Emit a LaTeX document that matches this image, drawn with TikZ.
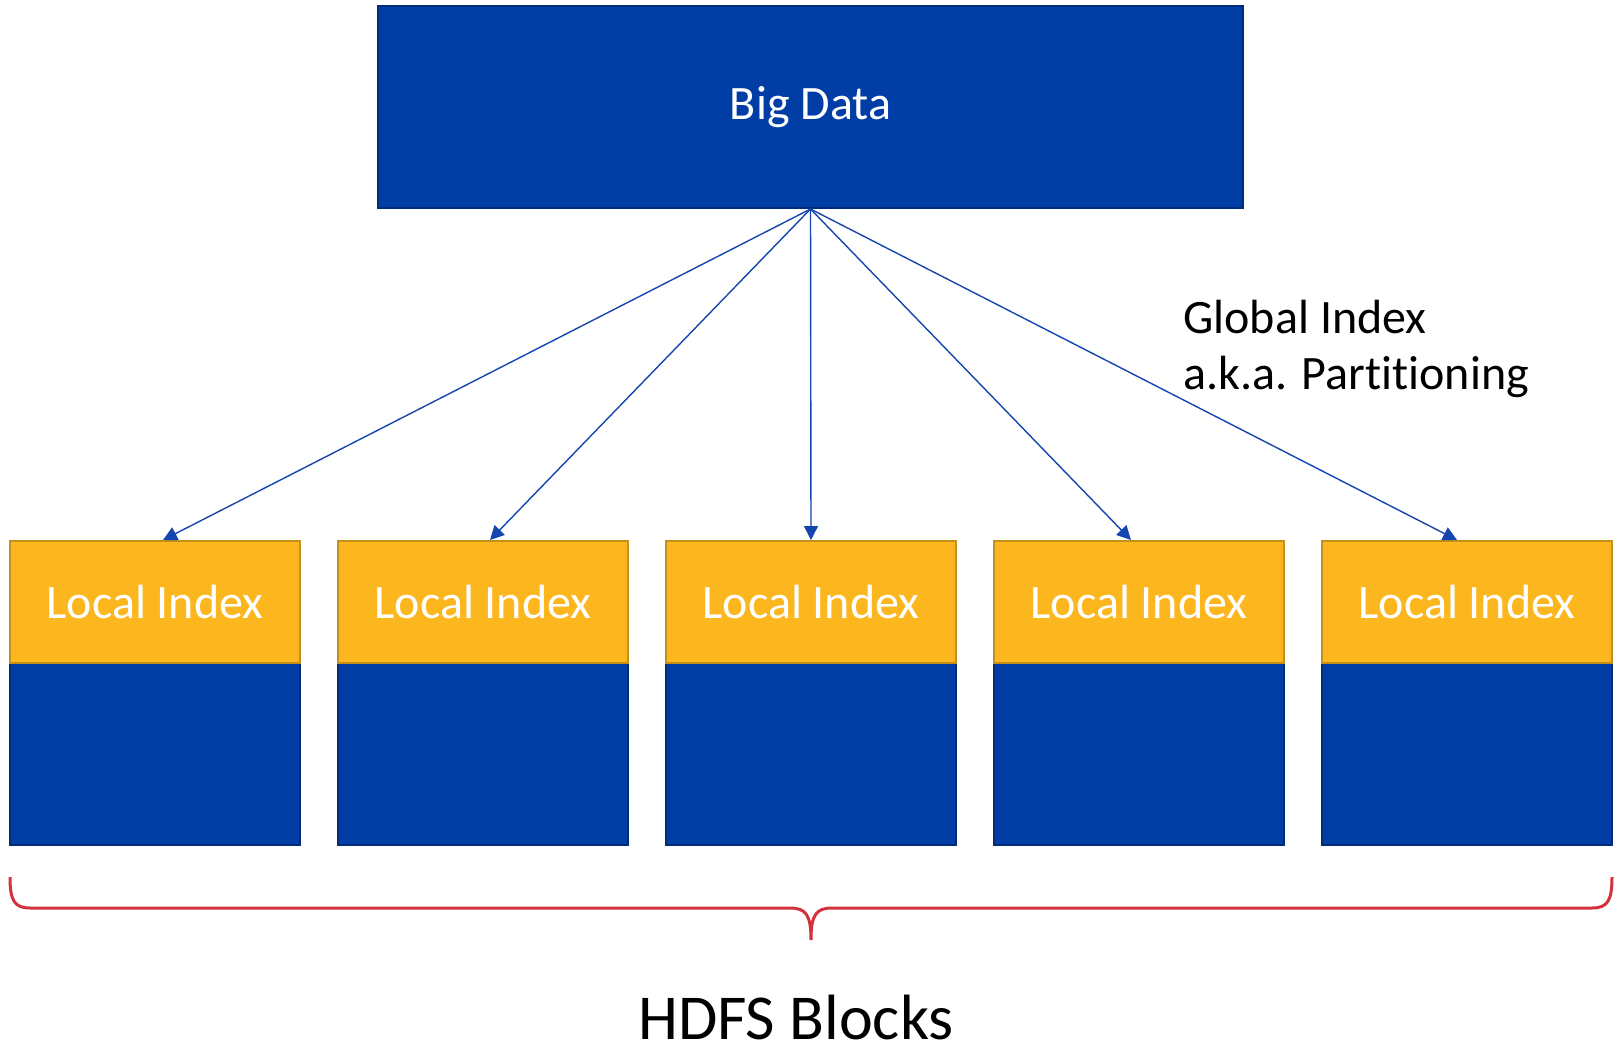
\documentclass[tikz,border=0pt]{standalone}
\usepackage{fontspec}
\setmainfont{Carlito}[Ligatures={NoCommon},RawFeature={-liga;-dlig;-calt}]
\usetikzlibrary{arrows.meta}
\definecolor{pblue}{RGB}{0,62,165}
\definecolor{pblueb}{RGB}{0,45,122}
\definecolor{pyel}{RGB}{253,183,30}
\definecolor{pyelb}{RGB}{196,144,26}
\definecolor{arrowblue}{RGB}{20,70,175}
\definecolor{bracered}{RGB}{210,50,60}
\tikzset{
  bigbox/.style={draw=pblueb, fill=pblue, line width=1pt, minimum width=432.5pt, minimum height=101pt, inner sep=0pt, text=white, font=\fontsize{24}{28}\selectfont},
  idxbox/.style={draw=pyelb, fill=pyel, line width=1pt, minimum width=145pt, minimum height=61pt, inner sep=0pt, text=white, font=\fontsize{24}{28}\selectfont},
  datbox/.style={draw=pblueb, fill=pblue, line width=1pt, minimum width=145pt, minimum height=91.5pt, inner sep=0pt},
  conn/.style={draw=arrowblue, line width=0.7pt, -{Triangle[length=7pt,width=7pt]}},
  brace/.style={draw=bracered, line width=1.5pt},
}
\begin{document}
\begin{tikzpicture}[x=0.5pt,y=-0.5pt]
\useasboundingbox (0,0) rectangle (1617,1045);
\node[bigbox] (big) at (810.5,107) {Big Data};
\foreach \i/\l in {1/10,2/338,3/666,4/994,5/1322}{
  \node[datbox] (d\i) at (\l+145,753.5) {};
  \node[idxbox] (y\i) at (\l+145,602) {Local Index};
}
\draw[conn] (big.south) -- ([xshift=4pt]y1.north);
\draw[conn] (big.south) -- ([xshift=3.5pt]y2.north);
\draw[conn] (big.south) -- (y3.north);
\draw[conn] (big.south) -- ([xshift=-4pt]y4.north);
\draw[conn] (big.south) -- ([xshift=-5pt]y5.north);
\node[anchor=west, align=left, font=\fontsize{24}{28}\selectfont, inner sep=0pt] (gi) at (1183,349) {Global Index\\a.k.a. Part\kern0pt iti\kern0pt oning};
\coordinate (bl) at (10,877);
\coordinate (br) at (1612,877);
\coordinate (bt) at (811,940);
\draw[brace] (bl) .. controls (10,900) and (14,908) .. (30,908) -- (790,908)
  .. controls (806,908) and (811,915) .. (bt)
  .. controls (811,915) and (816,908) .. (832,908) -- (1592,908)
  .. controls (1608,908) and (1612,900) .. (br);
\node[font=\fontsize{32}{38}\selectfont, inner sep=0pt] (hdfs) at (796,1017) {HDFS Blocks};
\end{tikzpicture}
\end{document}
